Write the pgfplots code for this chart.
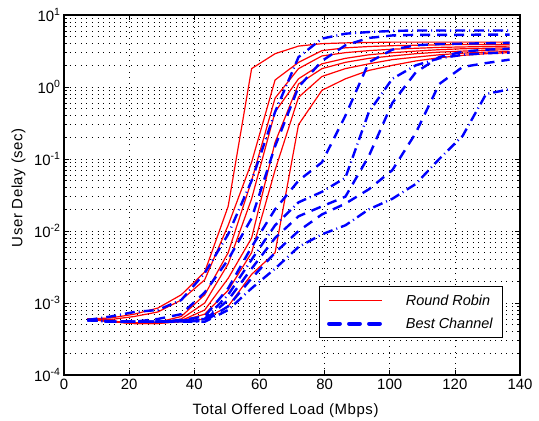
\documentclass[border=0pt]{standalone}
\usepackage{fontspec}
\setmainfont{Liberation Sans}
\usepackage{pgfplots}
\usepackage{pgfplotstable}
\pgfplotsset{compat=1.18}

% Round Robin curves (red)
\pgfplotstableread{
x     r1      r2      r3      r4      r5      r6      r7
7.2   6.0e-4  6.0e-4  6.0e-4  6.0e-4  6.0e-4  6.0e-4  6.0e-4
14.4  6.2e-4  5.9e-4  5.6e-4  5.6e-4  5.5e-4  5.5e-4  5.5e-4
21.6  7.0e-4  6.5e-4  5.3e-4  5.3e-4  5.2e-4  5.2e-4  5.2e-4
28.8  8.5e-4  7.5e-4  5.4e-4  5.3e-4  5.3e-4  5.2e-4  5.2e-4
36.0  1.3e-3  1.1e-3  6.5e-4  6.0e-4  5.7e-4  5.6e-4  5.5e-4
43.2  2.7e-3  2.1e-3  1.3e-3  1.0e-3  8.0e-4  7.0e-4  6.0e-4
50.4  2.2e-2  1.2e-2  5.0e-3  3.5e-3  2.2e-3  1.5e-3  9.0e-4
57.6  1.8     0.09    0.05    0.028   8.0e-3  5.0e-3  2.5e-3
64.8  2.9     1.25    0.7     0.45    0.17    0.07    5.0e-3
72.0  3.7     2.2     1.8     1.3     1.1     0.72    0.3
79.2  4.0     3.2     2.7     2.1     1.8     1.4     0.9
86.4  4.1     3.5     3.0     2.5     2.2     1.8     1.3
93.6  4.15    3.65    3.2     2.8     2.5     2.1     1.7
100.8 4.2     3.75    3.35    3.0     2.7     2.4     2.0
108.0 4.2     3.8     3.45    3.15    2.9     2.6     2.3
115.2 4.2     3.85    3.55    3.3     3.05    2.8     2.55
122.4 4.2     3.9     3.6     3.4     3.15    2.95    2.75
129.6 4.2     3.9     3.65    3.45    3.25    3.05    2.9
136.8 4.2     3.9     3.7     3.5     3.3     3.1     3.0
}\rrtable

% Best Channel curves (blue)
\pgfplotstableread{
x     b1      b2      b3      b4      b5      b6      b7
7.2   5.8e-4  5.8e-4  5.8e-4  5.8e-4  5.8e-4  5.8e-4  5.8e-4
14.4  6.5e-4  5.6e-4  5.5e-4  5.5e-4  5.5e-4  5.5e-4  5.5e-4
21.6  7.5e-4  5.5e-4  5.5e-4  5.5e-4  5.5e-4  5.5e-4  5.5e-4
28.8  8.0e-4  6.0e-4  5.5e-4  5.5e-4  5.5e-4  5.5e-4  5.5e-4
36.0  1.1e-3  7.0e-4  5.8e-4  5.7e-4  5.6e-4  5.6e-4  5.5e-4
43.2  2.6e-3  1.4e-3  6.5e-4  6.0e-4  5.6e-4  5.8e-4  5.5e-4
50.4  9.0e-3  4.0e-3  1.6e-3  1.3e-3  9.0e-4  1.1e-3  8.0e-4
57.6  0.05    0.015   6.0e-3  4.0e-3  2.2e-3  3.0e-3  1.6e-3
64.8  0.45    0.15    0.02    0.012   5.0e-3  8.0e-3  3.0e-3
72.0  2.6     1.0     0.05    0.025   0.01    0.016   6.0e-3
79.2  4.7     2.3     0.09    0.035   0.017   0.022   9.0e-3
86.4  5.5     3.8     0.4     0.055   0.024   0.03    0.012
93.6  5.8     4.8     2.2     0.45    0.038   0.11    0.02
100.8 6.0     5.2     3.3     1.3     0.07    0.6     0.028
108.0 6.1     5.3     3.8     2.0     0.23    1.6     0.045
115.2 6.1     5.3     3.95    2.5     1.1     2.6     0.1
122.4 6.1     5.3     4.0     2.8     1.9     3.1     0.21
129.6 6.1     5.35    4.05    2.95    2.15    3.3     0.8
136.8 6.1     5.35    4.1     3.0     2.4     3.4     0.93
}\bctable

\begin{document}
\begin{tikzpicture}
\begin{axis}[
  scale only axis, width=456bp, height=360bp,
  xmin=0, xmax=140, ymin=1e-4, ymax=10, ymode=log,
  xtick={0,20,...,140},
  ytick={1e-4,1e-3,1e-2,1e-1,1,10},
  yticklabels={10\textsuperscript{-4},10\textsuperscript{-3},10\textsuperscript{-2},
    10\textsuperscript{-1},10\textsuperscript{0},10\textsuperscript{1}},
  minor x tick num=0,
  tick align=inside, major tick length=5bp, minor tick length=3bp,
  tick style={black, line width=0.6bp},
  axis line style={black, line width=1.1bp},
  grid=both,
  major grid style={black, line width=0.6bp, dash pattern=on 1bp off 4.6bp},
  minor grid style={black, line width=0.6bp, dash pattern=on 1bp off 4.6bp},
  /pgf/number format/assume math mode=true,
  ticklabel style={font=\fontsize{15}{17}\selectfont},
  xticklabel style={yshift=-1bp},
  xlabel={Total Offered Load (Mbps)},
  ylabel={User Delay (sec)},
  label style={font=\fontsize{15}{18}\selectfont\addfontfeatures{LetterSpace=4}},
  xlabel style={at={(axis description cs:0.486,-0.1)}, anchor=center},
  ylabel style={at={(axis description cs:-0.1,0.52)}, anchor=center},
  legend style={at={(axis description cs:0.9627,0.1028)}, anchor=south east,
    draw=black, line width=0.8bp, fill=white,
    font=\fontsize{14.5}{17}\selectfont\itshape,
    row sep=7bp, inner xsep=8bp, inner ysep=6bp},
  legend cell align=left,
  legend image code/.code={\draw[#1] (0bp,0bp) -- (53bp,0bp);},
]
\addlegendimage{red, line width=1.3bp}
\addlegendentry{\hspace{20bp}Round Robin}
\addlegendimage{blue, line width=3.8bp, line cap=round, dash pattern=on 11bp off 9bp}
\addlegendentry{\hspace{20bp}Best Channel}

\foreach \c in {r1,r2,r3,r4,r5,r6,r7}{
  \addplot[red, line width=1.2bp, forget plot] table[x=x, y=\c] {\rrtable};
}
\addplot[blue, line width=2.4bp, dash pattern=on 10bp off 4bp on 1bp off 4bp, forget plot] table[x=x, y=b1] {\bctable};
\addplot[blue, line width=2.4bp, dash pattern=on 10bp off 7bp, forget plot] table[x=x, y=b2] {\bctable};
\addplot[blue, line width=2.4bp, dash pattern=on 10bp off 7bp, forget plot] table[x=x, y=b3] {\bctable};
\addplot[blue, line width=2.4bp, dash pattern=on 10bp off 4bp on 1bp off 4bp, forget plot] table[x=x, y=b4] {\bctable};
\addplot[blue, line width=2.4bp, dash pattern=on 10bp off 7bp, forget plot] table[x=x, y=b5] {\bctable};
\addplot[blue, line width=2.4bp, dash pattern=on 10bp off 7bp, forget plot] table[x=x, y=b6] {\bctable};
\addplot[blue, line width=2.4bp, dash pattern=on 10bp off 4bp on 1bp off 4bp, forget plot] table[x=x, y=b7] {\bctable};
\end{axis}
\pgfresetboundingbox
\path (-64bp,-46bp) rectangle (475bp,375bp);
\end{tikzpicture}
\end{document}
